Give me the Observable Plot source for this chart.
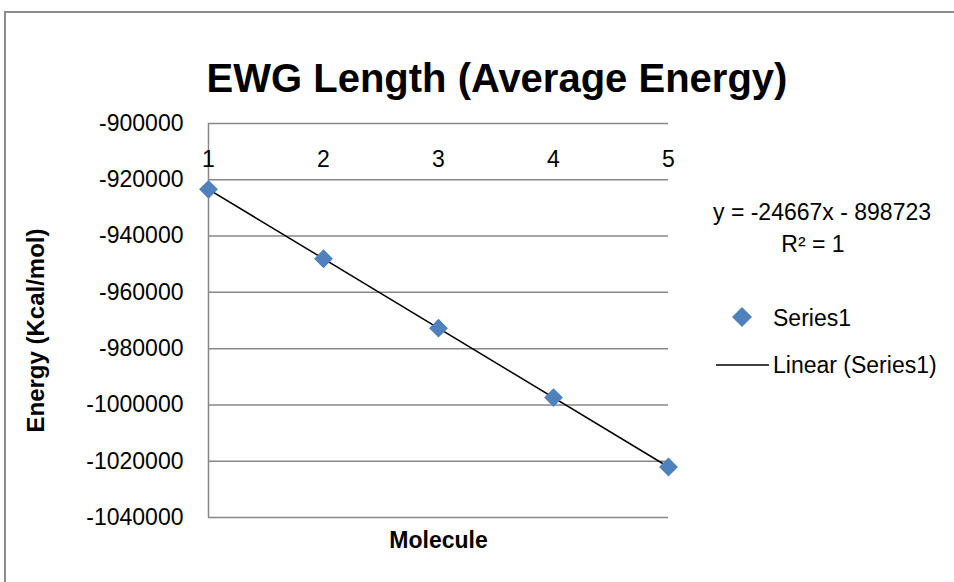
<!DOCTYPE html>
<html>
<head>
<meta charset="utf-8">
<script src="https://cdn.jsdelivr.net/npm/d3@7"></script>
<script src="https://cdn.jsdelivr.net/npm/@observablehq/plot@0.6"></script>
<style>
  html, body { margin: 0; padding: 0; background: #fff; overflow: hidden; }
  #wrap { position: relative; width: 954px; height: 582px; overflow: hidden;
          font-family: "Liberation Sans", Arial, sans-serif; color: #000; }
  #frame { position: absolute; left: 4px; top: 11px; width: 1000px; height: 700px;
           border: 2px solid #8c8c8c; box-sizing: border-box; }
  #title { position: absolute; left: 0; width: 994px; top: 58px; text-align: center;
           font-size: 40px; line-height: 40px; font-weight: bold; }
  #eq { position: absolute; left: 713px; width: 200px; top: 196px; text-align: center;
        font-size: 23px; line-height: 32px; white-space: nowrap; }
  .leg { position: absolute; font-size: 23px; line-height: 32px; white-space: nowrap; }
  #chart { position: absolute; left: 0; top: 0; }
</style>
</head>
<body>
<div id="wrap">
  <div id="frame"></div>
  <div id="chart"></div>
  <div id="title">EWG Length (Average Energy)</div>
  <div id="eq"><div>y = -24667x - 898723</div><div>R² = 1</div></div>
  <svg class="leg" style="left:731px;top:306px" width="22" height="22"><path d="M11,1L21,11L11,21L1,11Z" fill="#4f81bd"/></svg>
  <div class="leg" style="left:773px;top:302px">Series1</div>
  <svg class="leg" style="left:716px;top:360px" width="53" height="10"><line x1="0" x2="53" y1="5" y2="5" stroke="#000" stroke-width="1.5"/></svg>
  <div class="leg" style="left:773px;top:349px">Linear (Series1)</div>
</div>
<script>
const molecules = [1, 2, 3, 4, 5];
const energies = [-923390, -948057, -972724, -997391, -1022058];
const yTicks = [-900000, -920000, -940000, -960000, -980000, -1000000, -1020000, -1040000];
const xTicks = [1, 2, 3, 4, 5];
const xLabel = "Molecule";
const yLabel = "Energy (Kcal/mol)";

const data = molecules.map((m, i) => ({molecule: m, energy: energies[i]}));
const gridColor = "#878787";

const chart = Plot.plot({
  width: 954,
  height: 582,
  marginLeft: 208,
  marginRight: 286,
  marginTop: 123,
  marginBottom: 65,
  x: {domain: [1, 5]},
  y: {domain: [-1040000, -900000]},
  style: {fontFamily: "'Liberation Sans', Arial, sans-serif", fontSize: "23px", background: "transparent", color: "#000"},
  marks: [
    Plot.gridY(yTicks, {stroke: gridColor, strokeOpacity: 1, strokeWidth: 1.5}),
    Plot.ruleX([1], {stroke: gridColor, strokeWidth: 1.5}),
    Plot.axisY(yTicks, {tickSize: 0, tickPadding: 25, tickFormat: d => String(d), label: null, fontSize: 23}),
    Plot.axisX({ticks: [], label: null, tickSize: 0}),
    Plot.text(xTicks, {x: d => d, frameAnchor: "top", dy: 27, text: d => String(d), fontSize: 23}),
    Plot.linearRegressionY(data, {x: "molecule", y: "energy", ci: 0, stroke: "#000", strokeWidth: 1.5}),
    Plot.dot(data, {x: "molecule", y: "energy", symbol: "diamond2", fill: "#4f81bd", stroke: "none", r: 8.5}),
    Plot.text([xLabel], {frameAnchor: "bottom", dy: 30, text: d => d, fontWeight: "bold", fontSize: 23}),
    Plot.text([yLabel], {frameAnchor: "left", textAnchor: "middle", dx: -172, dy: 10, rotate: -90, text: d => d, fontWeight: "bold", fontSize: 24})
  ]
});
document.getElementById("chart").appendChild(chart);
</script>
</body>
</html>
